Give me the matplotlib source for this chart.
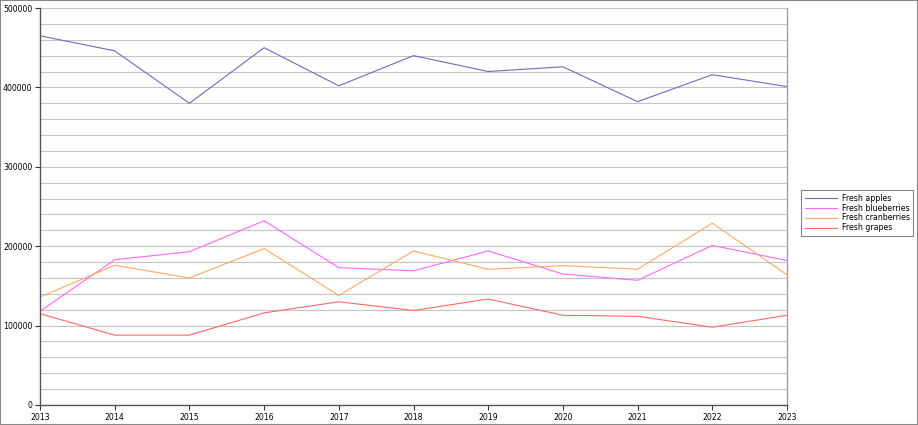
import matplotlib
matplotlib.use("Agg")
import matplotlib.pyplot as plt
from matplotlib.patches import Rectangle
from matplotlib.ticker import MultipleLocator

years = [2013, 2014, 2015, 2016, 2017, 2018, 2019, 2020, 2021, 2022, 2023]
apples = [465000, 446000, 380000, 450000, 402000, 440000, 420000, 426000, 382000, 416000, 401000]
blueberries = [118000, 183000, 193000, 232000, 173000, 169000, 194000, 165000, 157000, 201000, 182000]
cranberries = [136000, 176000, 160000, 197000, 138000, 194000, 171000, 175500, 171000, 229000, 164000]
grapes = [115000, 88000, 88000, 116000, 130000, 119000, 133500, 113000, 111700, 98000, 113000]

series = [
    ("Fresh apples", apples, "#6b6bbf"),
    ("Fresh blueberries", blueberries, "#ff66ff"),
    ("Fresh cranberries", cranberries, "#ffa864"),
    ("Fresh grapes", grapes, "#ff6666"),
]

fig = plt.figure(figsize=(9.18, 4.25), dpi=100)
ax = fig.add_axes([40/918, 20/425, 747/918, 397/425])

for name, vals, col in series:
    ax.plot(years, vals, color=col, lw=0.8, label=name)

ax.set_xlim(2013, 2023)
ax.set_ylim(0, 500000)
ax.set_xticks(years)
ax.yaxis.set_major_locator(MultipleLocator(100000))
ax.yaxis.set_minor_locator(MultipleLocator(20000))
ax.grid(True, which="both", axis="y", color="#c4c4c4", lw=0.8)
ax.set_axisbelow(True)
ax.tick_params(axis="both", which="major", labelsize=5.6, length=3.5, width=0.8,
               colors="#333333", pad=2)
ax.tick_params(axis="y", which="minor", length=0)
ax.tick_params(axis="x", labelcolor="#000000")
ax.tick_params(axis="y", labelcolor="#000000")

ax.spines["top"].set_visible(False)
ax.spines["left"].set_color("#555555")
ax.spines["bottom"].set_color("#555555")
ax.spines["right"].set_color("#a0a0a0")
for s in ax.spines.values():
    s.set_linewidth(1.0)

leg = fig.legend(loc="upper left", bbox_to_anchor=(801/918, 1 - 190/425),
                 fontsize=5.7, frameon=True, fancybox=False, handlelength=4.1,
                 borderpad=0.45, labelspacing=0.12, handletextpad=0.6, borderaxespad=0)
leg.get_frame().set_edgecolor("#666666")
leg.get_frame().set_linewidth(0.8)

fig.patches.append(Rectangle((0, 0), 1, 1, transform=fig.transFigure, fill=False,
                             edgecolor="#888888", lw=1.5))

fig.savefig("out.png", dpi=100)
